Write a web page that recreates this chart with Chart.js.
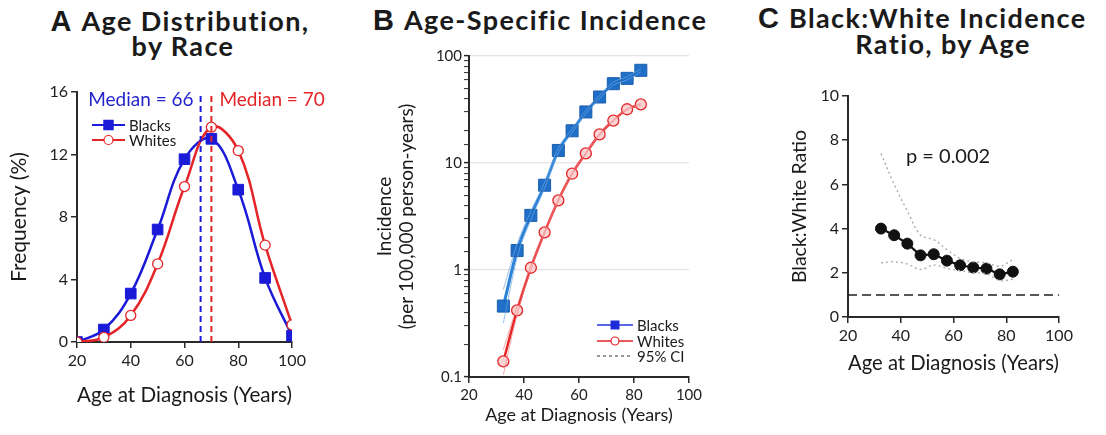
<!DOCTYPE html>
<html>
<head>
<meta charset="utf-8">
<script src="https://cdn.jsdelivr.net/npm/chart.js"></script>
<style>
  body { margin: 0; width: 1106px; height: 435px; background: #fff; position: relative; overflow: hidden; font-family: Lato, sans-serif; color: #1a1a1a; }
  .panel { position: absolute; }
  .ttl { position: absolute; font-weight: bold; font-size: 27px; line-height: 26px; white-space: nowrap; letter-spacing: 1.4px; }
  .ttl b { font-family: "Liberation Sans", Arial, sans-serif; font-size: 29px; letter-spacing: 0; margin-right: 10px; }
  .c { text-align: center; width: 400px; }
</style>
</head>
<body>
<div class="ttl c" style="left:-20px; top:8px;"><b>A</b>Age Distribution,</div>
<div class="ttl c" style="left:-17px; top:33px;">by Race</div>
<div class="ttl" style="left:373px; top:7px;"><b>B</b>Age-Specific Incidence</div>
<div class="ttl" style="left:758px; top:5px;"><b>C</b>Black:White Incidence</div>
<div class="ttl c" style="left:743px; top:31px;">Ratio, by Age</div>

<div class="panel" style="left:0px; top:60px;"><canvas id="chartA" width="330" height="350"></canvas></div>
<div class="panel" style="left:365px; top:40px;"><canvas id="chartB" width="340" height="390"></canvas></div>
<div class="panel" style="left:780px; top:70px;"><canvas id="chartC" width="326" height="310"></canvas></div>

<script>
// A: age distribution by race
const ageBins = [20, 30, 40, 50, 60, 70, 80, 90, 100];
const freqBlacks = [0, 0.8, 3.1, 7.2, 11.7, 13.0, 9.75, 4.1, 0.4];
const freqWhites = [0, 0.3, 1.7, 5.0, 9.95, 13.75, 12.25, 6.2, 1.1];
const medianBlacks = 66;
const medianWhites = 70;

// B: age-specific incidence (per 100,000 person-years)
const ageMid = [32.5, 37.5, 42.5, 47.5, 52.5, 57.5, 62.5, 67.5, 72.5, 77.5, 82.5];
const incBlacks = [0.46, 1.52, 3.24, 6.2, 13.1, 20.0, 30.0, 41.4, 55.1, 61.8, 73.5];
const incBlacksLo = [0.32, 1.3, 2.95, 5.8, 12.4, 19.2, 28.9, 40.0, 53.3, 59.8, 71.2];
const incBlacksHi = [0.66, 1.75, 3.55, 6.6, 13.8, 20.8, 31.1, 42.8, 56.9, 63.8, 75.8];
const incWhites = [0.14, 0.42, 1.05, 2.25, 4.48, 7.94, 12.3, 18.5, 24.9, 31.8, 35.3];
const incWhitesLo = [0.105, 0.385, 1.0, 2.18, 4.38, 7.8, 12.1, 18.2, 24.5, 31.3, 34.7];
const incWhitesHi = [0.18, 0.46, 1.1, 2.32, 4.58, 8.08, 12.5, 18.8, 25.3, 32.3, 35.9];

// C: black:white ratio
const ratio = [4.0, 3.7, 3.32, 2.79, 2.84, 2.55, 2.34, 2.24, 2.19, 1.93, 2.05];
const ratioLo = [2.45, 2.5, 2.4, 2.15, 2.35, 2.2, 2.1, 2.0, 1.96, 1.65, 1.7];
const ratioHi = [7.4, 6.0, 4.8, 3.7, 3.5, 3.05, 2.65, 2.5, 2.45, 2.3, 2.6];
const refRatio = 1;
const pText = "p = 0.002";

const xTicks = [20, 40, 60, 80, 100];

const BLUE = "#1a1ad8";
const RED = "#e52427";
const STEEL = "#1f6fc8";
const AXIS = "#2a2a2a";
const FONT = "Lato, sans-serif";

const pts = (xs, ys) => xs.map((x, i) => ({ x: x, y: ys[i] }));

function axisX(tickSize, titleSize, height, titlePad) {
  return {
    type: "linear", min: 20, max: 100,
    afterFit: (s) => { s.height = height; },
    afterBuildTicks: (s) => { s.ticks = xTicks.map(v => ({ value: v })); },
    border: { color: AXIS, width: 2 },
    grid: { drawOnChartArea: false, color: AXIS, tickLength: 6, lineWidth: 1.5 },
    ticks: { color: "#222", font: { family: FONT, size: tickSize }, padding: 3, maxRotation: 0 },
    title: { display: true, text: "Age at Diagnosis (Years)", color: "#1a1a1a",
             font: { family: FONT, size: titleSize }, padding: { top: 0, bottom: titlePad } }
  };
}

// legend entry: line with a marker in the middle
function drawKey(ctx, x, y, len, style, label, font) {
  ctx.save();
  ctx.strokeStyle = style.line;
  ctx.lineWidth = style.width;
  ctx.setLineDash(style.dash || []);
  ctx.beginPath(); ctx.moveTo(x, y); ctx.lineTo(x + len, y); ctx.stroke();
  ctx.setLineDash([]);
  if (style.marker) {
    ctx.fillStyle = style.fill;
    ctx.strokeStyle = style.edge;
    ctx.lineWidth = 1.2;
    Chart.helpers.drawPoint(ctx, { pointStyle: style.marker, radius: style.radius, rotation: 0, borderWidth: 1.2 }, x + len / 2, y);
  }
  ctx.fillStyle = "#1a1a1a";
  ctx.font = font;
  ctx.textAlign = "left";
  ctx.textBaseline = "middle";
  ctx.fillText(label, x + len + 4, y + 1);
  ctx.restore();
}

// ---------- A ----------
new Chart(document.getElementById("chartA"), {
  type: "line",
  data: {
    datasets: [
      { label: "medB", data: [{ x: medianBlacks, y: 0 }, { x: medianBlacks, y: 16 }], borderColor: BLUE,
        borderWidth: 2, borderDash: [6, 4], pointRadius: 0, tension: 0 },
      { label: "medW", data: [{ x: medianWhites, y: 0 }, { x: medianWhites, y: 16 }], borderColor: RED,
        borderWidth: 2, borderDash: [6, 4], pointRadius: 0, tension: 0 },
      { label: "Whites", data: pts(ageBins, freqWhites), borderColor: RED, borderWidth: 2.5, tension: 0.4,
        pointStyle: "circle", pointRadius: 5, pointBackgroundColor: "#fff", pointBorderColor: RED, pointBorderWidth: 1.3 },
      { label: "Blacks", data: pts(ageBins, freqBlacks), borderColor: BLUE, borderWidth: 2.5, tension: 0.4,
        pointStyle: "rect", pointRadius: 7.5, pointBackgroundColor: BLUE, pointBorderColor: BLUE, pointBorderWidth: 1 }
    ]
  },
  options: {
    responsive: false, animation: false,
    layout: { padding: { left: 0, top: 32, right: 38, bottom: 0 }, autoPadding: false },
    plugins: { legend: { display: false }, tooltip: { enabled: false } },
    scales: {
      x: axisX(16, 21, 68, 2),
      y: {
        min: 0, max: 16,
        afterFit: (s) => { s.width = 77; },
        border: { color: AXIS, width: 2 },
        grid: { drawOnChartArea: false, color: AXIS, tickLength: 6, lineWidth: 1.5 },
        ticks: { stepSize: 4, color: "#222", font: { family: FONT, size: 16 }, padding: 3 },
        title: { display: true, text: "Frequency (%)", color: "#1a1a1a", font: { family: FONT, size: 21 }, padding: { top: 7 } }
      }
    }
  },
  plugins: [{
    id: "annA",
    afterDraw(chart) {
      const { ctx, chartArea: a, scales: { x, y } } = chart;
      ctx.save();
      ctx.font = "19px " + FONT;
      ctx.textBaseline = "middle";
      ctx.fillStyle = "#2424cc";
      ctx.textAlign = "right";
      ctx.fillText("Median = " + medianBlacks, x.getPixelForValue(medianBlacks) - 7, y.getPixelForValue(15.5));
      ctx.fillStyle = RED;
      ctx.textAlign = "left";
      ctx.fillText("Median = " + medianWhites, x.getPixelForValue(medianWhites) + 8, y.getPixelForValue(15.5));
      ctx.restore();
      drawKey(ctx, a.left + 15, a.top + 33, 33, { line: BLUE, width: 2, marker: "rect", radius: 6.5, fill: BLUE, edge: BLUE }, "Blacks", "15px " + FONT);
      drawKey(ctx, a.left + 15, a.top + 48, 33, { line: RED, width: 2, marker: "circle", radius: 4.5, fill: "#fff", edge: RED }, "Whites", "15px " + FONT);
    }
  }]
});

// ---------- B ----------
const isDecade = (v) => { const l = Math.log10(v); return Math.abs(l - Math.round(l)) < 1e-6; };

new Chart(document.getElementById("chartB"), {
  type: "line",
  data: {
    datasets: [
      { label: "bLo", data: pts(ageMid, incBlacksLo), borderColor: "rgba(110,165,225,0.7)", borderWidth: 1, pointRadius: 0, cubicInterpolationMode: "monotone" },
      { label: "bHi", data: pts(ageMid, incBlacksHi), borderColor: "rgba(110,165,225,0.7)", borderWidth: 1, pointRadius: 0, cubicInterpolationMode: "monotone" },
      { label: "wLo", data: pts(ageMid, incWhitesLo), borderColor: "rgba(240,130,130,0.7)", borderWidth: 1, pointRadius: 0, cubicInterpolationMode: "monotone" },
      { label: "wHi", data: pts(ageMid, incWhitesHi), borderColor: "rgba(240,130,130,0.7)", borderWidth: 1, pointRadius: 0, cubicInterpolationMode: "monotone" },
      { label: "Whites", data: pts(ageMid, incWhites), borderColor: RED, borderWidth: 2.5, cubicInterpolationMode: "monotone",
        pointStyle: "circle", pointRadius: 5.5, pointBackgroundColor: "#fbd3d3", pointBorderColor: RED, pointBorderWidth: 1.3 },
      { label: "Blacks", data: pts(ageMid, incBlacks), borderColor: "#2b82d6", borderWidth: 3, cubicInterpolationMode: "monotone",
        pointStyle: "rect", pointRadius: 8.5, pointBackgroundColor: STEEL, pointBorderColor: "#1b5fae", pointBorderWidth: 1 }
    ]
  },
  options: {
    responsive: false, animation: false,
    layout: { padding: { left: 0, top: 16, right: 14, bottom: 0 }, autoPadding: false },
    plugins: { legend: { display: false }, tooltip: { enabled: false } },
    scales: {
      x: axisX(15, 18, 53, 4),
      y: {
        type: "logarithmic", min: 0.1, max: 100,
        afterFit: (s) => { s.width = 104; },
        border: { color: AXIS, width: 2 },
        grid: {
          color: (c) => (c.tick && isDecade(c.tick.value) ? "#e4e4e4" : "rgba(0,0,0,0)"),
          tickColor: AXIS, tickLength: 5, lineWidth: 1.2,
          tickWidth: (c) => (c.tick && isDecade(c.tick.value) ? 1.5 : 1)
        },
        ticks: {
          autoSkip: false, color: "#222", font: { family: FONT, size: 15 }, padding: 2,
          callback: (v) => (isDecade(v) ? (v < 1 ? "0.1" : String(Math.round(v))) : "")
        },
        title: { display: true, text: ["Incidence", "(per 100,000 person-years)"], color: "#1a1a1a",
                 font: { family: FONT, size: 19 }, padding: { top: 8 } }
      }
    }
  },
  plugins: [{
    id: "keyB",
    afterDraw(chart) {
      const { ctx, chartArea: a } = chart;
      const f = "15px " + FONT;
      drawKey(ctx, a.left + 128, a.top + 269, 36, { line: "#2436dc", width: 1.5, marker: "rect", radius: 5.5, fill: "#1c2ad8", edge: "#1c2ad8" }, "Blacks", f);
      drawKey(ctx, a.left + 128, a.top + 285, 36, { line: RED, width: 1.5, marker: "circle", radius: 4, fill: "#fff", edge: RED }, "Whites", f);
      drawKey(ctx, a.left + 128, a.top + 300, 36, { line: "#333", width: 1.2, dash: [3, 3] }, "95% CI", f);
    }
  }]
});

// ---------- C ----------
new Chart(document.getElementById("chartC"), {
  type: "line",
  data: {
    datasets: [
      { label: "ref", data: [{ x: 20, y: refRatio }, { x: 100, y: refRatio }], borderColor: "#222", borderWidth: 1.5,
        borderDash: [9, 5], pointRadius: 0, tension: 0 },
      { label: "lo", data: pts(ageMid, ratioLo), borderColor: "#a8a8a8", borderWidth: 1.3, borderDash: [2, 3], pointRadius: 0, tension: 0.35 },
      { label: "hi", data: pts(ageMid, ratioHi), borderColor: "#a8a8a8", borderWidth: 1.3, borderDash: [2, 3], pointRadius: 0, tension: 0.35 },
      { label: "ratio", data: pts(ageMid, ratio), borderColor: "#111", borderWidth: 2.2, tension: 0,
        pointStyle: "circle", pointRadius: 5.5, pointBackgroundColor: "#111", pointBorderColor: "#111", pointBorderWidth: 1 }
    ]
  },
  options: {
    responsive: false, animation: false,
    layout: { padding: { left: 0, top: 26, right: 47, bottom: 0 }, autoPadding: false },
    plugins: { legend: { display: false }, tooltip: { enabled: false } },
    scales: {
      x: axisX(16, 20.5, 63, 4),
      y: {
        min: 0, max: 10,
        afterFit: (s) => { s.width = 68; },
        border: { color: AXIS, width: 2 },
        grid: { drawOnChartArea: false, color: AXIS, tickLength: 6, lineWidth: 1.5 },
        ticks: { stepSize: 2, color: "#222", font: { family: FONT, size: 16 }, padding: 3 },
        title: { display: true, text: "Black:White Ratio", color: "#1a1a1a", font: { family: FONT, size: 19.5 }, padding: { top: 8 } }
      }
    }
  },
  plugins: [{
    id: "pC",
    afterDraw(chart) {
      const { ctx, chartArea: a, scales: { y } } = chart;
      ctx.save();
      ctx.font = "20px " + FONT;
      ctx.fillStyle = "#1a1a1a";
      ctx.textBaseline = "middle";
      ctx.fillText(pText, a.left + 58, y.getPixelForValue(7.25));
      ctx.restore();
    }
  }]
});
</script>
</body>
</html>
